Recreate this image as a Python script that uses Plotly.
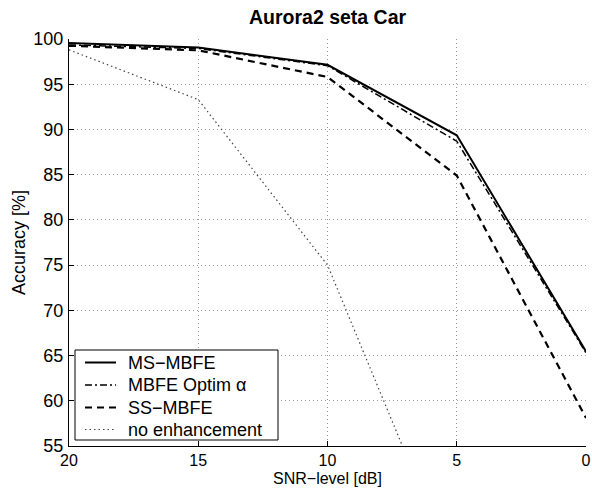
import plotly.graph_objects as go

snr = [20, 15, 10, 5, 0]
ms_mbfe = [99.55, 99.05, 97.15, 89.35, 65.45]
mbfe_optim = [99.35, 98.95, 97.05, 88.7, 65.3]
ss_mbfe = [99.25, 98.75, 95.8, 84.9, 58.1]
no_enh = [98.8, 93.3, 75.0, 40.5, None]

names = ["MS\u2212MBFE", "MBFE Optim \u03b1", "SS\u2212MBFE", "no enhancement"]
series = [ms_mbfe, mbfe_optim, ss_mbfe, no_enh]
styles = [
    dict(color="black", width=2, dash="solid"),
    dict(color="black", width=1.5, dash="7px,3px,2px,3px"),
    dict(color="black", width=2.2, dash="7px,5px"),
    dict(color="#444444", width=1.2, dash="1.5px,3px"),
]

FONT = "Liberation Sans, Arial, sans-serif"
W, H = 592, 488
ML, MR, MT, MB = 69, 6, 39, 42
PW, PH = W - ML - MR, H - MT - MB


def px(x):
    return (x - ML) / PW


def py(y):
    return (H - MB - y) / PH


fig = go.Figure()
for n, s, st in zip(names, series, styles):
    fig.add_trace(go.Scatter(x=snr, y=s, mode="lines", name=n, line=st,
                             connectgaps=False, cliponaxis=True, showlegend=False))

# legend drawn as box + samples + labels
shapes = [dict(type="rect", xref="paper", yref="paper",
               x0=px(75), x1=px(278), y0=py(440), y1=py(350),
               line=dict(color="black", width=1), fillcolor="white", layer="above")]
annotations = []
rows = [362.5, 385, 407.5, 429.5]
for n, st, ry in zip(names, styles, rows):
    shapes.append(dict(type="line", xref="paper", yref="paper",
                       x0=px(85), x1=px(116), y0=py(ry), y1=py(ry),
                       line=dict(color=st["color"], width=st["width"], dash=st["dash"]),
                       layer="above"))
    annotations.append(dict(text=n, xref="paper", yref="paper", x=px(126), y=py(ry),
                            xanchor="left", yanchor="middle", showarrow=False,
                            font=dict(size=18, family=FONT, color="black")))

# x-axis title
annotations.append(dict(text="SNR\u2212level [dB]", xref="paper", yref="paper",
                        x=0.5, y=py(488), xanchor="center", yanchor="bottom",
                        showarrow=False, borderpad=0,
                        font=dict(size=16, family=FONT, color="black")))

fig.update_layout(
    width=W, height=H,
    margin=dict(l=ML, r=MR, t=MT, b=MB, autoexpand=False),
    paper_bgcolor="white", plot_bgcolor="white",
    font=dict(family=FONT, size=18, color="black"),
    title=dict(text="<b>Aurora2 seta Car</b>", x=0.5533, xanchor="center",
               y=0.965, yanchor="middle", font=dict(size=19.5, family=FONT)),
    showlegend=False,
    shapes=shapes,
    annotations=annotations,
)
fig.update_xaxes(
    range=[20, 0], tickvals=[20, 15, 10, 5, 0], ticktext=["20", "15", "10", "5", "0"],
    showline=True, linecolor="black", linewidth=1, mirror=False,
    ticks="inside", ticklen=5, tickcolor="black", tickfont=dict(size=16),
    showgrid=True, gridcolor="#999999", griddash="1px,3px", gridwidth=1,
    zeroline=False, ticklabelstandoff=0, automargin=False,
)
fig.update_yaxes(
    range=[55, 100], tickvals=[55, 60, 65, 70, 75, 80, 85, 90, 95, 100],
    showline=True, linecolor="black", linewidth=1, mirror=False,
    ticks="inside", ticklen=5, tickcolor="black",
    showgrid=True, gridcolor="#999999", griddash="1px,3px", gridwidth=1,
    zeroline=False, ticklabelstandoff=1, automargin=False,
    title=dict(text="Accuracy [%]", standoff=3, font=dict(size=18)),
)

fig.write_html("out.html")
